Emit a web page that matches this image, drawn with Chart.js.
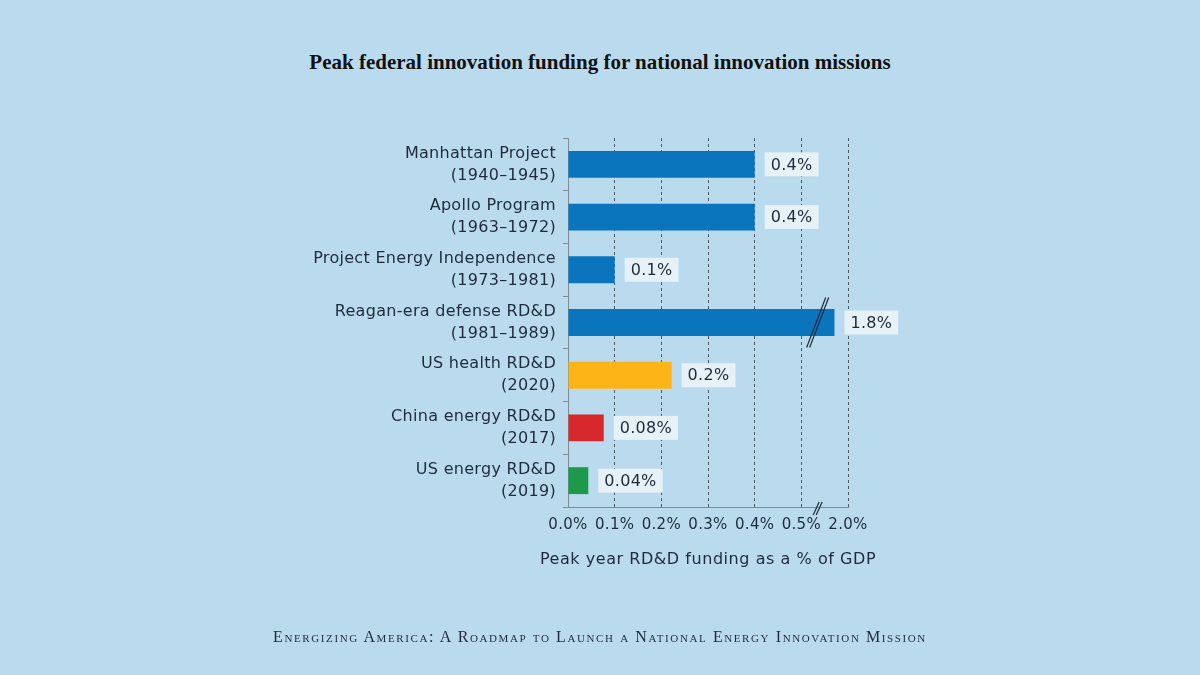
<!DOCTYPE html>
<html>
<head>
<meta charset="utf-8">
<script src="https://cdn.jsdelivr.net/npm/chart.js@4.4.1/dist/chart.umd.min.js"></script>
<style>
  html, body { margin:0; padding:0; }
  body { width:1200px; height:675px; background:#badbed; position:relative; overflow:hidden; }
  #title { position:absolute; left:0; width:1200px; top:50px; text-align:center;
    font-family:"Liberation Serif", serif; font-weight:bold; font-size:21px; color:#111; }
  #footer { position:absolute; left:0; width:1200px; top:628px; text-align:center;
    font-family:"Liberation Serif", serif; font-variant:small-caps; font-size:16px; letter-spacing:1.6px; color:#1e2b3c; }
  #wrap { position:absolute; left:0; top:0; width:1200px; height:675px; }
</style>
</head>
<body>
<div id="title">Peak federal innovation funding for national innovation missions</div>
<div id="wrap"><canvas id="c" width="1200" height="675"></canvas></div>
<div id="footer">Energizing America: A Roadmap to Launch a National Energy Innovation Mission</div>
<script>
const categories = [
  ['Manhattan Project', '(1940–1945)'],
  ['Apollo Program', '(1963–1972)'],
  ['Project Energy Independence', '(1973–1981)'],
  ['Reagan-era defense RD&D', '(1981–1989)'],
  ['US health RD&D', '(2020)'],
  ['China energy RD&D', '(2017)'],
  ['US energy RD&D', '(2019)']
];
// bar lengths on the (broken) axis scale
const plottedValues = [0.4, 0.4, 0.1, 0.571, 0.222, 0.0765, 0.0435];
const valueLabels = ['0.4%', '0.4%', '0.1%', '1.8%', '0.2%', '0.08%', '0.04%'];
const barColors = ['#0a74bc', '#0a74bc', '#0a74bc', '#0a74bc', '#fdb417', '#d7282c', '#1c9a4a'];
const xTickValues = [0, 0.1, 0.2, 0.3, 0.4, 0.5, 0.6];
const xTickLabels = ['0.0%', '0.1%', '0.2%', '0.3%', '0.4%', '0.5%', '2.0%'];
const xAxisTitle = 'Peak year RD&D funding as a % of GDP';
const brokenIndex = 3;
const breakAt = 0.535;

const TEXT = '#1e2b3c';
const FONT = '"DejaVu Sans"';

const labelPlugin = {
  id: 'valueLabels',
  beforeDraw(chart) {
    chart.ctx.letterSpacing = '0.3px';
  },
  afterDatasetsDraw(chart) {
    const ctx = chart.ctx;
    const meta = chart.getDatasetMeta(0);
    ctx.save();
    ctx.font = '16px ' + FONT;
    meta.data.forEach((bar, i) => {
      const t = valueLabels[i];
      const w = ctx.measureText(t).width;
      const x0 = bar.x + 10, h = 24;
      ctx.fillStyle = '#e6f1f8';
      ctx.fillRect(x0, bar.y - h / 2, w + 12, h);
      ctx.fillStyle = TEXT;
      ctx.textBaseline = 'middle';
      ctx.textAlign = 'left';
      ctx.fillText(t, x0 + 6, bar.y + 1);
    });
    ctx.restore();
  },
  afterDraw(chart) {
    const ctx = chart.ctx;
    const xs = chart.scales.x;
    const area = chart.chartArea;
    const bar = chart.getDatasetMeta(0).data[brokenIndex];
    const xb = xs.getPixelForValue(breakAt);
    ctx.save();
    ctx.strokeStyle = TEXT;
    ctx.lineWidth = 1.2;
    const yb = bar.y;
    [-1.5, 1.5].forEach(o => {
      ctx.beginPath();
      ctx.moveTo(xb + o - 9.5, yb + 25);
      ctx.lineTo(xb + o + 9.5, yb - 25);
      ctx.stroke();
    });
    const ya = xs.top;
    [-1.5, 1.5].forEach(o => {
      ctx.beginPath();
      ctx.moveTo(xb + o - 3, ya + 8);
      ctx.lineTo(xb + o + 3, ya - 5);
      ctx.stroke();
    });
    // axis title
    ctx.letterSpacing = '0.55px';
    ctx.font = '16px ' + FONT;
    ctx.fillStyle = TEXT;
    ctx.textAlign = 'center';
    ctx.textBaseline = 'middle';
    ctx.fillText(xAxisTitle, (area.left + area.right) / 2, xs.top + 53);
    ctx.restore();
  }
};

new Chart(document.getElementById('c'), {
  type: 'bar',
  data: {
    labels: categories,
    datasets: [{
      data: plottedValues,
      backgroundColor: barColors,
      borderWidth: 0,
      barPercentage: 0.51,
      categoryPercentage: 1
    }]
  },
  options: {
    indexAxis: 'y',
    responsive: false,
    animation: false,
    events: [],
    layout: { padding: { top: 138, left: 0, right: 352, bottom: 0 } },
    plugins: { legend: { display: false }, tooltip: { enabled: false } },
    scales: {
      x: {
        type: 'linear',
        min: 0, max: 0.6,
        afterBuildTicks(scale) { scale.ticks = xTickValues.map(v => ({ value: v })); },
        afterFit(scale) { scale.height = 168; },
        ticks: {
          callback: (v, i) => xTickLabels[i],
          color: TEXT,
          font: { family: FONT, size: 15 },
          padding: 9,
          maxRotation: 0,
          autoSkip: false
        },
        grid: {
          drawTicks: false,
          color: ctx => (ctx.tick && ctx.tick.value === 0) ? 'rgba(0,0,0,0)' : '#4a5a66',
          lineWidth: 1
        },
        border: { display: true, color: '#7d8c97', width: 1, dash: [3, 3] },
        title: { display: false }
      },
      y: {
        afterFit(scale) { scale.width = 568; },
        ticks: {
          color: TEXT,
          font: { family: FONT, size: 16, lineHeight: '22px' },
          padding: 7,
          autoSkip: false
        },
        grid: {
          drawOnChartArea: false,
          drawTicks: true,
          tickLength: 5,
          tickColor: '#7d8c97',
          offset: true
        },
        border: { display: true, color: '#7d8c97', width: 1 }
      }
    }
  },
  plugins: [labelPlugin]
});
</script>
</body>
</html>
